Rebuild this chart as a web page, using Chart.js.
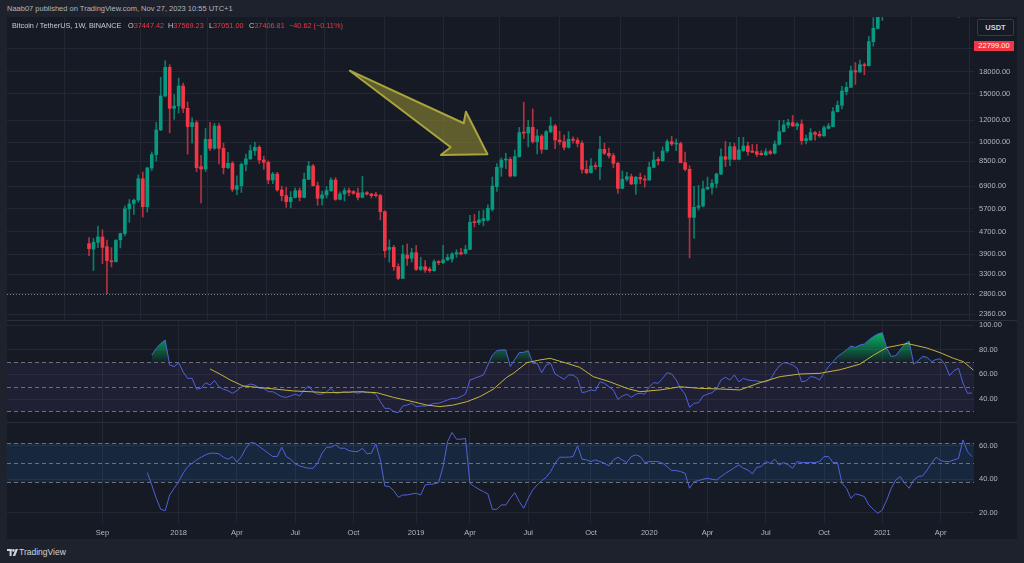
<!DOCTYPE html>
<html>
<head>
<meta charset="utf-8">
<title>Bitcoin / TetherUS 1W</title>
<script src="https://cdn.jsdelivr.net/npm/chart.js@4.4.1/dist/chart.umd.min.js"></script>
<style>
html,body{margin:0;padding:0;width:1024px;height:563px;overflow:hidden;background:#1e222d;font-family:"Liberation Sans",Arial,sans-serif;}
.abs{position:absolute;white-space:nowrap;line-height:10px;}
#frame{position:absolute;left:7px;top:17px;width:1010px;height:522px;background:#161a25;}
canvas{position:absolute;left:7px;}
#c1{top:17px}#c2{top:320px}#c3{top:422px}
.sep{position:absolute;left:7px;width:1010px;height:1px;background:#2a2e39;}
.hdr{font-size:7.5px;color:#b2b5be;}
.lg{font-size:7.3px;color:#c8cbd3;top:21px;}
.red{color:#f23645;}
#usdt{position:absolute;left:977px;top:19px;width:35px;height:15px;border:1px solid #363a45;border-radius:2px;color:#d1d4dc;font-size:7.5px;font-weight:bold;line-height:15px;text-align:center;background:#161a25;}
#last{position:absolute;left:974px;top:41px;width:40px;height:10px;background:#f23645;color:#fff;font-size:7.5px;line-height:10px;text-align:center;}
#foot{position:absolute;left:19px;top:547px;font-size:8.5px;color:#d1d4dc;line-height:10px;}
#logo{position:absolute;left:7px;top:549px;}
</style>
</head>
<body>
<div class="abs hdr" style="left:7px;top:4px">Naab07 published on TradingView.com, Nov 27, 2023 10:55 UTC+1</div>
<div id="frame"></div>
<canvas id="c1" width="1010" height="303"></canvas>
<canvas id="c2" width="1010" height="102"></canvas>
<canvas id="c3" width="1010" height="117"></canvas>
<div class="sep" style="top:320px"></div>
<div class="sep" style="top:422px"></div>
<div class="abs lg" style="left:12px">Bitcoin / TetherUS, 1W, BINANCE</div>
<div class="abs lg" style="left:128px">O<span class="red">37447.42</span></div>
<div class="abs lg" style="left:168px">H<span class="red">37569.23</span></div>
<div class="abs lg" style="left:209px">L<span class="red">37051.00</span></div>
<div class="abs lg" style="left:249px">C<span class="red">37406.81</span></div>
<div class="abs lg red" style="left:289px">−40.62 (−0.11%)</div>
<div id="usdt">USDT</div>
<div id="last">22799.00</div>
<svg id="logo" width="11" height="7" viewBox="0 0 11 7"><rect x="0" y="0" width="4.6" height="2" fill="#d1d4dc"/><rect x="2.6" y="0" width="2" height="7" fill="#d1d4dc"/><circle cx="6.4" cy="1.4" r="1.3" fill="#d1d4dc"/><polygon points="8.6,0 11,0 8.2,7 5.8,7" fill="#d1d4dc"/></svg>
<div id="foot">TradingView</div>
<script>
// ---------- DATA (weekly candles from the week of 2017-08-14) ----------
const firstWeek = '2017-08-14';
const open = [4261,4069,4310,4505,4153,3690,3660,4400,4640,5710,
5975,6140,7345,5811,8040,9000,11070,14720,18720,13270,
13530,16010,13270,11380,11770,8130,7972,10230,9485,11440,
9485,8062,8362,6723,6933,8292,8675,9300,9565,8600,
8433,7270,7645,6686,6375,6062,6286,6649,6286,7311,
8176,6933,6234,6411,6649,7270,6182,6465,6649,6600,
6520,6286,6536,6465,6400,6380,5574,4061,4130,3512,
3185,3873,3767,3950,3435,3512,3440,3396,3663,3632,
3715,3746,3906,3950,3928,4061,5126,5083,5169,5198,
5685,6876,8085,8600,8649,7518,8846,10820,10780,11315,
10030,10520,9405,10910,11440,10170,10030,9565,10230,10150,
9890,7950,7731,8176,8130,9405,9097,8920,8362,6780,
7311,7475,7031,7434,7330,7270,8087,8650,8552,9275,
10030,9836,9870,8410,7950,5316,5781,5847,6743,6838,
7070,7645,8846,8649,9616,8649,9300,9670,9275,9224,
9097,8970,9224,9097,9810,10910,11540,11770,11440,11630,
10115,10170,10820,10670,10520,11220,11380,12900,13610,15260,
15830,18200,18000,19140,18980,23220,25970,32900,38150,36000,
32300,33100,38900,48600,57500,45200,50950,59000,57350,55800,
57100,60000,56150,49000,57800,58250,46450,34700];
const high = [4485,4453,4939,4788,4394,4123,4406,4658,5856,6171,
6200,7590,7776,8100,9200,11800,17204,19798,19150,14900,
17100,16400,14000,12250,11950,8950,11200,11788,11700,11700,
9900,9177,8500,7530,8400,9035,9750,9990,9700,8880,
8540,7750,7760,6900,6830,6600,6800,6800,7700,8500,
8300,7150,6620,6880,7400,7420,6580,6800,6800,6650,
6800,7500,6600,6500,6550,6450,5620,4400,4200,3600,
4200,4250,4100,4200,3800,3700,3500,3720,3700,4200,
3900,3950,4050,4100,4200,5400,5450,5600,5650,5900,
7450,8350,8750,9100,8800,9350,11300,13970,12000,13200,
11100,10650,11000,12300,11600,10950,10600,10900,10450,10350,
10100,8550,8700,8400,10500,9900,9500,9100,8450,7850,
7750,7650,7500,7700,7550,8450,9200,8800,9600,10200,
10500,10250,10000,9200,8200,6900,6950,7200,7450,7300,
7700,9450,10050,9950,9900,10400,10400,10000,9800,9800,
9300,9450,9350,10100,12000,12000,12100,12500,11800,12050,
10600,11200,10950,10950,11450,11700,13350,14100,15950,16500,
18900,19500,19900,19400,24300,28400,34800,41950,40100,37850,
38500,40950,49000,58350,58000,52650,61800,61200,58400,60200,
61000,64850,57500,58450,59500,59600,46600,40800];
const low = [3850,3400,4124,3603,2800,3505,3653,4110,4550,5100,
5450,6030,5325,5555,7875,8520,11000,14600,10800,12100,
12750,12800,9035,9900,7800,6000,7800,9300,9400,8329,
7650,8000,6600,6430,6550,7850,8650,8940,8350,7950,
7050,7050,6620,6100,5780,5750,6250,6100,6250,7300,
6900,5880,5880,6250,6600,6130,6150,6100,6380,6450,
6150,6250,6400,6250,6300,5200,3800,3650,3400,3150,
3180,3550,3650,3400,3400,3350,3350,3380,3570,3600,
3700,3650,3800,3880,3900,4050,4900,5000,4950,5150,
5600,6600,7500,8000,7450,7500,8800,10300,9600,9900,
9050,9100,9400,10800,9450,9800,9350,9500,9900,9600,
7700,7650,7700,7950,7300,9000,8750,8050,6500,6750,
7200,7000,6450,7050,6850,7250,8050,8250,8500,9150,
9700,9300,8400,7850,3782,4450,5650,5800,6700,6450,
6800,7600,8130,8200,8600,8600,9250,8950,9150,8850,
8950,8950,9000,9050,9750,10880,11250,11400,11100,9800,
9850,10150,10150,10400,10500,11150,11350,12850,13200,14850,
15800,16200,17950,17600,18900,22350,25800,27734,30400,28850,
29200,32300,37300,45600,44900,45000,49300,53200,50400,54900,
55500,51500,47050,48750,53000,43800,30000,31100];
const close = [4086,4310,4509,4130,3699,3660,4378,4640,5710,5950,
6140,7345,5811,8040,9000,11070,14720,18720,13270,13530,
16010,13270,11380,11770,8062,7972,10230,9485,11440,9485,
8062,8362,6723,6933,8292,8675,9300,9565,8600,8433,
7270,7645,6686,6375,6062,6286,6649,6286,7311,8176,
6933,6234,6411,6649,7270,6182,6465,6649,6556,6500,
6286,6536,6465,6375,6380,5574,4017,4130,3512,3185,
3906,3767,3950,3435,3512,3415,3396,3663,3632,3715,
3798,3906,3950,3906,4061,5097,5083,5198,5257,5733,
6914,8085,8600,8649,7518,8846,10820,10780,11315,10030,
10520,9405,10910,11440,10170,10030,9565,10230,10150,9890,
7950,7731,8176,8130,9405,9097,8920,8362,6780,7311,
7475,7031,7434,7330,7270,8087,8600,8552,9275,10030,
9836,9870,8410,7950,5316,5781,5847,6743,6838,7070,
7645,8846,8649,9616,8649,9354,9670,9224,9173,9020,
8995,9224,9097,9836,10910,11540,11770,11440,11630,10115,
10290,10820,10670,10550,11280,11440,12900,13610,15350,15830,
18200,18000,19140,18980,23220,25970,32900,38150,36000,32300,
33100,38900,48600,57500,45200,50950,59000,57350,55800,57100,
60000,56150,49000,57800,58250,46450,34700,35650];

// RSI pane (first indicator), one value per week, null before it starts
const rsi = [null,null,null,null,null,null,null,null,null,null,
null,null,null,null,75.7,81,85,87.9,67.6,66.3,
69.5,62,56.8,56.8,48,48.7,53.3,51.4,55,50,
48,46.8,44.7,46.8,50,50.6,52.2,51.4,48.7,48.7,
46,46,44,42,41.4,42.5,44,42.5,47.4,50.6,
46,44,44,46,48.7,44.7,45.2,46,45.2,46,
44.7,46,45.2,45.2,44,37.9,32.5,32.5,29.8,29,
34.4,35.2,36.6,33.9,34.4,34.4,35.2,36.6,36.6,37.9,
39.3,40.6,40.6,42,44,55.5,56.8,58.2,59.5,67.6,
75.7,79.2,79.8,79.8,66.3,72.2,77.6,77.9,79.2,69,
69,61.4,67.6,69,60.3,58.2,56,59.5,59.5,56.8,
45.2,46,47.4,46.8,54,52.8,50,47.4,39.8,42.5,
44,41.4,44,44.7,44,50,53.3,52.8,56.8,61.4,
60.3,55.5,48.7,44,33.3,36.6,37.1,42.5,44,45.2,
48,55.5,57.6,55.5,59.5,54,56.8,55.5,55,54.7,
54,54,55.5,62,66.8,69.5,69,67.6,65,54,
54.7,58.2,57.6,55.5,60.9,66.3,70.3,74.4,77,79.8,
83,81.9,83.8,84.6,87.9,90.6,92.7,93.8,81.1,74.4,
75.3,79.8,84.6,86.9,68.3,71.1,74.6,73.8,70.3,72.2,
72.5,68,59,63,65,53,44.7,45];
// RSI moving average (yellow), read at these week positions
const rsiMaX = [27,29.2,31.5,34.4,38.2,41.9,45.6,49.3,53,56.7,60.5,64.2,67.9,71.6,75.3,78.3,81.3,84.3,87.2,90.2,93.2,94.7,97.7,100.6,102.9,106.6,109.5,112.5,116.2,120,122.9,127.4,131.9,136.3,140.8,145.2,149.7,154.2,158.6,163.1,167.6,172,175,178,182.6,186.9,189.9,192.9,195.1,197.3];
const rsiMaY = [64.4,60.3,55.5,50.6,49.3,48,46.6,46,45.2,45.5,46,45.2,41.4,38.5,35.2,33.9,35.2,37.9,42,48,57.6,60.9,69.5,71.7,73,69,65.7,58.2,54,48.7,46,47.4,50,48.7,48.2,47.4,53.3,58.2,60.3,60.9,63.8,68.3,75.5,81.7,85,81.4,77.6,73,70.3,63.5];
// second indicator pane
const osc = [null,null,null,null,null,null,null,null,null,null,
null,null,null,44,36.6,28.6,22,21.2,30.6,34.6,
38.6,43.6,47.6,49.6,51.6,53.2,54.6,55.6,55.6,55.2,
53.2,52,53.6,50.2,53.6,58.6,62,61.6,59.6,57.6,
55.6,53.6,53.6,59.2,53.6,52,49.2,48,47.2,46.6,
46.6,49.6,55.6,59.2,59.2,60.6,58.6,58.6,57.2,56.6,
56.6,58.6,55.2,55.6,61.2,51.6,36,35.6,33.2,29.2,
30.6,30.6,31.2,31.6,30.6,36.6,37,37.2,38,47.6,
62.6,68,64,64,64.4,37.6,35.6,34,32.6,31.2,
22,22,24.6,24.6,28.6,32,26.6,22.6,28.6,33.6,
36.6,39.2,41.2,44.6,49.6,53.2,53.2,53.2,53.6,60,
52,51.6,50.6,51.6,50.6,49.6,48,51.6,53.2,51.6,
50,53.6,54.6,53.6,50,50.6,50.6,50.6,49.6,47.6,
45.2,45.2,44.6,43.6,34.6,38.6,39.2,40,40.6,40,
39.6,41.6,43.6,45.2,47,48.6,46.6,45.6,43.2,47.2,
47.6,50.6,49.6,52,48.6,50,48.6,46.6,50.6,50,
50,50,50,50.6,53.6,53.6,50,50,37.6,34.6,
28.6,31.2,30.6,29.6,24.6,22,19.6,21.6,27.6,34.6,
39.6,41.6,37.6,34.6,39.6,41.6,42,45.6,49.6,53.2,
51.2,50.6,50.6,51.6,52.5,63.6,56.5,53.6];

const priceTicks = [2360,2800,3300,3900,4700,5700,6900,8500,10000,12000,15000,18000,22000];
const rsiTicks = [40,60,80,100];
const oscTicks = [20,40,60];
const rsiLevels = [70,50,30];
const oscLevels = [61.8,50,38.2];
const xTickIdx = [3,20,33,46,59,73,85,98,112,125,138,151,164,177,190];
const xTickText = ['Sep','2018','Apr','Jul','Oct','2019','Apr','Jul','Oct','2020','Apr','Jul','Oct','2021','Apr'];
// drawings: arrow outline and a horizontal line, in (week index, price)
const arrowPts = [[58.2,18200],[83.6,11705],[84.1,12900],[88.9,9020],[78.5,8970],[80.7,9568]];
const hLinePrice = 2790;

// ---------- STYLE ----------
const X_MIN = -18.3, X_MAX = 197.46;
const GRID = '#232733', TXT = '#b2b5be';
const UP = '#089981', DN = '#f23645', WUP = '#0c7d6a', WDN = '#b4323f';
const LINE = '#5062d8', MA = '#c4b43c';
Chart.defaults.font.family = '"Liberation Sans", Arial, sans-serif';
Chart.defaults.font.size = 7.5;
Chart.defaults.color = TXT;

function noPad(s){ s.paddingTop = 0; s.paddingBottom = 0; s.paddingLeft = 0; s.paddingRight = 0; }
function xAxis(show){
  return {
    type:'linear', min:X_MIN, max:X_MAX, offset:false,
    afterBuildTicks: s => { s.ticks = xTickIdx.map(v => ({value:v})); },
    afterFit: s => { s.height = show ? 16 : 0; noPad(s); },
    grid:{color:GRID, drawTicks:false},
    border:{display:false},
    ticks:{display:show, autoSkip:false, maxRotation:0, padding:5, color:TXT,
      callback: v => { const k = xTickIdx.indexOf(v); return k >= 0 ? xTickText[k] : ''; }}
  };
}
function yAxis(type, min, max, ticks){
  return {
    type, position:'right', min, max,
    afterBuildTicks: s => { s.ticks = ticks.map(v => ({value:v})); },
    afterFit: s => { s.width = 43; noPad(s); },
    grid:{color:GRID, drawTicks:false},
    border:{display:false},
    ticks:{autoSkip:false, padding:5, color:TXT, callback: v => Number(v).toFixed(2)}
  };
}
const bandPlugin = {
  id:'band',
  beforeDatasetsDraw(chart, args, o){
    const {ctx, chartArea:a, scales:{y}} = chart;
    ctx.save();
    const t = y.getPixelForValue(o.to), b = y.getPixelForValue(o.from);
    ctx.fillStyle = o.fill;
    ctx.fillRect(a.left, t, a.right - a.left, b - t);
    ctx.strokeStyle = '#6d707b'; ctx.lineWidth = 1; ctx.setLineDash([4,3]);
    o.levels.forEach(v => {
      const py = Math.round(y.getPixelForValue(v)) + 0.5;
      ctx.beginPath(); ctx.moveTo(a.left, py); ctx.lineTo(a.right, py); ctx.stroke();
    });
    ctx.restore();
  }
};
const drawPlugin = {
  id:'drawings',
  afterDatasetsDraw(chart){
    const {ctx, chartArea:a, scales:{x, y}} = chart;
    ctx.save();
    ctx.beginPath(); ctx.rect(a.left, a.top, a.right - a.left, a.bottom - a.top); ctx.clip();
    const sy = Math.round(y.getPixelForValue(hLinePrice)) + 0.5;
    ctx.strokeStyle = 'rgba(160,163,172,0.75)'; ctx.lineWidth = 1; ctx.setLineDash([1,2]);
    ctx.beginPath(); ctx.moveTo(a.left, sy); ctx.lineTo(a.right, sy); ctx.stroke();
    ctx.setLineDash([]);
    ctx.beginPath();
    arrowPts.forEach(([i, p], k) => {
      const px = x.getPixelForValue(i), py = y.getPixelForValue(p);
      if (k) ctx.lineTo(px, py); else ctx.moveTo(px, py);
    });
    ctx.closePath();
    ctx.fillStyle = 'rgba(140,135,50,0.62)'; ctx.fill();
    ctx.lineJoin = 'round'; ctx.lineWidth = 2; ctx.strokeStyle = '#aaa43d'; ctx.stroke();
    ctx.restore();
  }
};
const base = {responsive:false, animation:false, events:[], layout:{padding:0},
  plugins:{legend:{display:false}, tooltip:{enabled:false}}};

// ---------- PRICE PANE ----------
new Chart(document.getElementById('c1'), {
  type:'bar',
  data:{datasets:[
    {data: open.map((o,i) => ({x:i, y:[low[i], high[i]]})),
     backgroundColor: open.map((o,i) => close[i] >= o ? WUP : WDN),
     barThickness:1, grouped:false, order:2},
    {data: open.map((o,i) => ({x:i, y:[Math.min(o, close[i]), Math.max(o, close[i])]})),
     backgroundColor: open.map((o,i) => close[i] >= o ? UP : DN),
     barThickness:3, minBarLength:1, grouped:false, order:1}
  ]},
  options:Object.assign({}, base, {
    scales:{x:xAxis(false), y:yAxis('logarithmic', 2245, 28560, priceTicks)}
  }),
  plugins:[drawPlugin]
});

// ---------- RSI PANE ----------
new Chart(document.getElementById('c2'), {
  type:'line',
  data:{datasets:[
    {data: rsi.map((v,i) => ({x:i, y:v})), borderColor:LINE, borderWidth:1, pointRadius:0, tension:0,
     backgroundColor: c => {
       const ch = c.chart; if (!ch.chartArea || !ch.scales.y) return 'rgba(0,0,0,0)';
       const g = ch.ctx.createLinearGradient(0, ch.scales.y.getPixelForValue(100), 0, ch.scales.y.getPixelForValue(70));
       g.addColorStop(0, 'rgba(0,230,118,0.95)'); g.addColorStop(1, 'rgba(0,230,118,0.03)');
       return g;
     },
     fill:{value:70, below:'rgba(0,0,0,0)'}, order:2},
    {data: rsiMaX.map((x,k) => ({x, y:rsiMaY[k]})), borderColor:MA, borderWidth:1, pointRadius:0, tension:0, fill:false, order:1}
  ]},
  options:Object.assign({}, base, {
    scales:{x:xAxis(false), y:yAxis('linear', 21.46, 104.05, rsiTicks)},
    plugins:Object.assign({}, base.plugins, {band:{from:30, to:70, levels:rsiLevels, fill:'rgba(126,87,194,0.10)'}})
  }),
  plugins:[bandPlugin]
});

// ---------- SECOND INDICATOR PANE ----------
new Chart(document.getElementById('c3'), {
  type:'line',
  data:{datasets:[
    {data: osc.map((v,i) => ({x:i, y:v})), borderColor:LINE, borderWidth:1, pointRadius:0, tension:0, fill:false}
  ]},
  options:Object.assign({}, base, {
    scales:{x:xAxis(true), y:yAxis('linear', 13.8, 74.3, oscTicks)},
    plugins:Object.assign({}, base.plugins, {band:{from:38.2, to:61.8, levels:oscLevels, fill:'rgba(33,150,243,0.12)'}})
  }),
  plugins:[bandPlugin]
});
</script>
</body>
</html>
